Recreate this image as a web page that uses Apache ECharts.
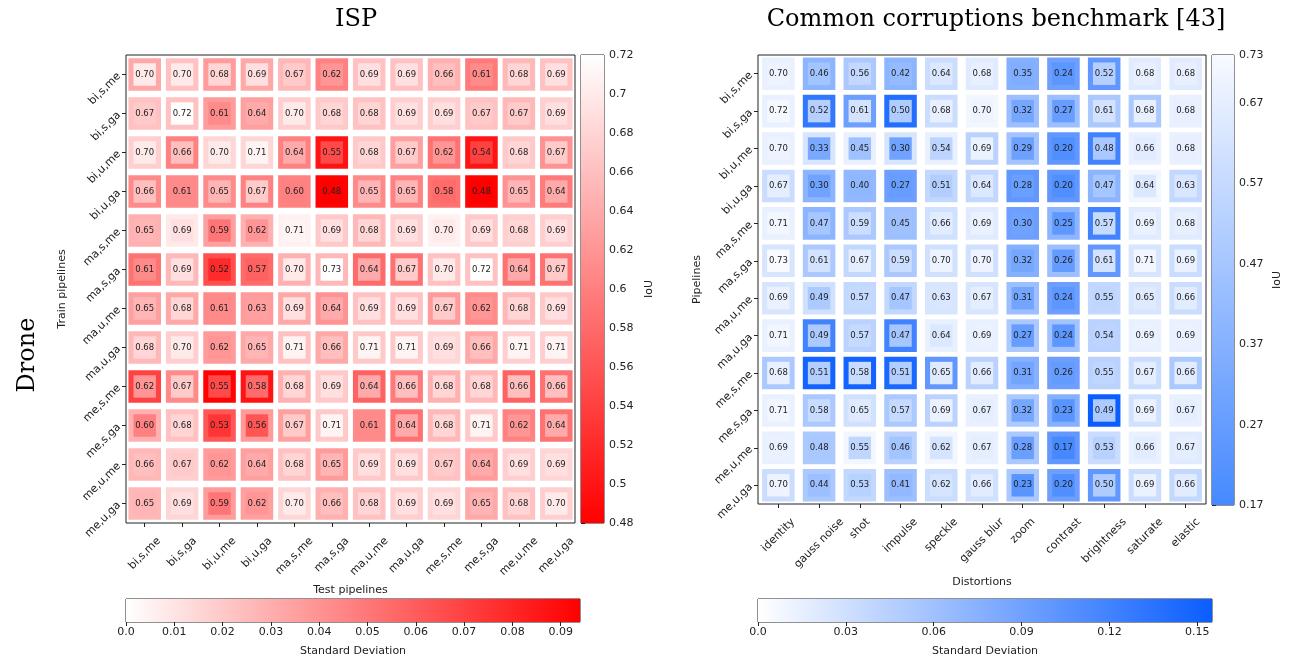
<!DOCTYPE html>
<html>
<head>
<meta charset="utf-8">
<script src="https://cdn.jsdelivr.net/npm/echarts@6/dist/echarts.min.js"></script>
<style>
  html, body { margin: 0; padding: 0; background: #fff; }
  #main { width: 1293px; height: 661px; }
</style>
</head>
<body>
<div id="main"></div>
<script>
// pipelines and distortions
var pipelines = ['bi,s,me', 'bi,s,ga', 'bi,u,me', 'bi,u,ga', 'ma,s,me', 'ma,s,ga',
                 'ma,u,me', 'ma,u,ga', 'me,s,me', 'me,s,ga', 'me,u,me', 'me,u,ga'];
var distortions = ['identity', 'gauss noise', 'shot', 'impulse', 'speckle', 'gauss blur',
                   'zoom', 'contrast', 'brightness', 'saturate', 'elastic'];

// ISP: mean IoU (rows = train pipelines, cols = test pipelines)
var ispIoU = [
  [0.70, 0.70, 0.68, 0.69, 0.67, 0.62, 0.69, 0.69, 0.66, 0.61, 0.68, 0.69],
  [0.67, 0.72, 0.61, 0.64, 0.70, 0.68, 0.68, 0.69, 0.69, 0.67, 0.67, 0.69],
  [0.70, 0.66, 0.70, 0.71, 0.64, 0.55, 0.68, 0.67, 0.62, 0.54, 0.68, 0.67],
  [0.66, 0.61, 0.65, 0.67, 0.60, 0.48, 0.65, 0.65, 0.58, 0.48, 0.65, 0.64],
  [0.65, 0.69, 0.59, 0.62, 0.71, 0.69, 0.68, 0.69, 0.70, 0.69, 0.68, 0.69],
  [0.61, 0.69, 0.52, 0.57, 0.70, 0.73, 0.64, 0.67, 0.70, 0.72, 0.64, 0.67],
  [0.65, 0.68, 0.61, 0.63, 0.69, 0.64, 0.69, 0.69, 0.67, 0.62, 0.68, 0.69],
  [0.68, 0.70, 0.62, 0.65, 0.71, 0.66, 0.71, 0.71, 0.69, 0.66, 0.71, 0.71],
  [0.62, 0.67, 0.55, 0.58, 0.68, 0.69, 0.64, 0.66, 0.68, 0.68, 0.66, 0.66],
  [0.60, 0.68, 0.53, 0.56, 0.67, 0.71, 0.61, 0.64, 0.68, 0.71, 0.62, 0.64],
  [0.66, 0.67, 0.62, 0.64, 0.68, 0.65, 0.69, 0.69, 0.67, 0.64, 0.69, 0.69],
  [0.65, 0.69, 0.59, 0.62, 0.70, 0.66, 0.68, 0.69, 0.69, 0.65, 0.68, 0.70]
];
// ISP: standard deviation
var ispStd = [
  [0.032, 0.023, 0.037, 0.032, 0.026, 0.046, 0.023, 0.023, 0.029, 0.049, 0.026, 0.023],
  [0.023, 0.023, 0.037, 0.035, 0.018, 0.020, 0.023, 0.018, 0.018, 0.023, 0.026, 0.018],
  [0.018, 0.046, 0.015, 0.015, 0.046, 0.087, 0.020, 0.035, 0.052, 0.087, 0.020, 0.040],
  [0.043, 0.043, 0.043, 0.046, 0.046, 0.093, 0.043, 0.046, 0.052, 0.093, 0.040, 0.049],
  [0.029, 0.008, 0.035, 0.029, 0.005, 0.020, 0.026, 0.018, 0.005, 0.020, 0.018, 0.018],
  [0.052, 0.026, 0.065, 0.055, 0.029, 0.026, 0.055, 0.052, 0.023, 0.023, 0.052, 0.052],
  [0.035, 0.032, 0.043, 0.037, 0.032, 0.040, 0.023, 0.023, 0.037, 0.043, 0.026, 0.020],
  [0.026, 0.018, 0.037, 0.032, 0.023, 0.032, 0.020, 0.020, 0.015, 0.032, 0.018, 0.018],
  [0.070, 0.043, 0.093, 0.087, 0.029, 0.020, 0.058, 0.049, 0.029, 0.026, 0.058, 0.052],
  [0.029, 0.023, 0.062, 0.037, 0.035, 0.020, 0.043, 0.052, 0.026, 0.020, 0.046, 0.052],
  [0.026, 0.018, 0.037, 0.035, 0.023, 0.037, 0.020, 0.020, 0.023, 0.037, 0.018, 0.015],
  [0.026, 0.015, 0.037, 0.035, 0.015, 0.029, 0.023, 0.018, 0.015, 0.032, 0.023, 0.018]
];

// Common corruptions: mean IoU (rows = pipelines, cols = distortions)
var ccIoU = [
  [0.70, 0.46, 0.56, 0.42, 0.64, 0.68, 0.35, 0.24, 0.52, 0.68, 0.68],
  [0.72, 0.52, 0.61, 0.50, 0.68, 0.70, 0.32, 0.27, 0.61, 0.68, 0.68],
  [0.70, 0.33, 0.45, 0.30, 0.54, 0.69, 0.29, 0.20, 0.48, 0.66, 0.68],
  [0.67, 0.30, 0.40, 0.27, 0.51, 0.64, 0.28, 0.20, 0.47, 0.64, 0.63],
  [0.71, 0.47, 0.59, 0.45, 0.66, 0.69, 0.30, 0.25, 0.57, 0.69, 0.68],
  [0.73, 0.61, 0.67, 0.59, 0.70, 0.70, 0.32, 0.26, 0.61, 0.71, 0.69],
  [0.69, 0.49, 0.57, 0.47, 0.63, 0.67, 0.31, 0.24, 0.55, 0.65, 0.66],
  [0.71, 0.49, 0.57, 0.47, 0.64, 0.69, 0.27, 0.24, 0.54, 0.69, 0.69],
  [0.68, 0.51, 0.58, 0.51, 0.65, 0.66, 0.31, 0.26, 0.55, 0.67, 0.66],
  [0.71, 0.58, 0.65, 0.57, 0.69, 0.67, 0.32, 0.23, 0.49, 0.69, 0.67],
  [0.69, 0.48, 0.55, 0.46, 0.62, 0.67, 0.28, 0.17, 0.53, 0.66, 0.67],
  [0.70, 0.44, 0.53, 0.41, 0.62, 0.66, 0.23, 0.20, 0.50, 0.69, 0.66]
];
// Common corruptions: standard deviation
var ccStd = [
  [0.014, 0.072, 0.053, 0.072, 0.033, 0.019, 0.077, 0.092, 0.100, 0.019, 0.019],
  [0.014, 0.130, 0.092, 0.140, 0.033, 0.009, 0.062, 0.062, 0.053, 0.053, 0.014],
  [0.014, 0.025, 0.014, 0.025, 0.014, 0.043, 0.058, 0.100, 0.120, 0.014, 0.014],
  [0.033, 0.072, 0.068, 0.092, 0.038, 0.038, 0.100, 0.100, 0.072, 0.009, 0.038],
  [0.014, 0.072, 0.053, 0.062, 0.030, 0.019, 0.092, 0.072, 0.120, 0.019, 0.019],
  [0.025, 0.053, 0.038, 0.053, 0.030, 0.030, 0.077, 0.062, 0.100, 0.025, 0.033],
  [0.025, 0.030, 0.038, 0.038, 0.025, 0.025, 0.062, 0.092, 0.038, 0.025, 0.033],
  [0.014, 0.120, 0.043, 0.120, 0.014, 0.014, 0.053, 0.058, 0.043, 0.014, 0.014],
  [0.053, 0.150, 0.150, 0.145, 0.100, 0.043, 0.077, 0.092, 0.043, 0.033, 0.053],
  [0.014, 0.053, 0.030, 0.053, 0.043, 0.014, 0.053, 0.077, 0.155, 0.030, 0.014],
  [0.014, 0.053, 0.009, 0.043, 0.009, 0.014, 0.053, 0.100, 0.033, 0.014, 0.019],
  [0.033, 0.053, 0.038, 0.062, 0.033, 0.030, 0.053, 0.092, 0.100, 0.033, 0.038]
];

// colour scales
var ispIoURange = [0.48, 0.72];
var ispStdRange = [0, 0.094];
var ccIoURange = [0.17, 0.73];
var ccStdRange = [0, 0.155];

function hex(c) {
  return [parseInt(c.slice(1, 3), 16), parseInt(c.slice(3, 5), 16), parseInt(c.slice(5, 7), 16)];
}
function scale(lo, hi, c0, c1) {
  var a = hex(c0), b = hex(c1);
  return function (v) {
    var t = Math.max(0, Math.min(1, (v - lo) / (hi - lo)));
    return 'rgb(' + [0, 1, 2].map(function (i) { return Math.round(a[i] + (b[i] - a[i]) * t); }).join(',') + ')';
  };
}
var ispIoUColor = scale(ispIoURange[0], ispIoURange[1], '#ff0000', '#ffffff');
var ispStdColor = scale(ispStdRange[0], ispStdRange[1], '#ffffff', '#ff0000');
var ccIoUColor = scale(ccIoURange[0], ccIoURange[1], '#4689ff', '#f8faff');
var ccStdColor = scale(ccStdRange[0], ccStdRange[1], '#ffffff', '#0a5eff');

function cells(iou, std) {
  var out = [];
  iou.forEach(function (row, r) {
    row.forEach(function (v, c) { out.push([c, r, v, std[r][c]]); });
  });
  return out;
}

function cellItem(iouColor, stdColor) {
  return function (params, api) {
    var c = api.coord([api.value(0), api.value(1)]);
    var s = api.size([1, 1]);
    var m = Math.min(s[0], s[1]);
    var o = m * 0.87, i = m * 0.6;
    return {
      type: 'group',
      children: [
        { type: 'rect', shape: { x: c[0] - o / 2, y: c[1] - o / 2, width: o, height: o },
          style: { fill: stdColor(api.value(3)) } },
        { type: 'rect', shape: { x: c[0] - i / 2, y: c[1] - i / 2, width: i, height: i },
          style: { fill: iouColor(api.value(2)) } },
        { type: 'text', x: c[0], y: c[1],
          style: { text: api.value(2).toFixed(2), align: 'center', verticalAlign: 'middle',
                   font: '8.5px "DejaVu Sans"', fill: '#222' } }
      ]
    };
  };
}

function barItem(colors, vertical) {
  return function (params, api) {
    var cs = params.coordSys;
    return {
      type: 'rect',
      shape: { x: cs.x, y: cs.y, width: cs.width, height: cs.height },
      style: {
        fill: new echarts.graphic.LinearGradient(0, vertical ? 1 : 0, vertical ? 0 : 1, 0, [
          { offset: 0, color: colors[0] }, { offset: 1, color: colors[1] }
        ])
      }
    };
  };
}

var font = 'DejaVu Sans';
var lbl = { fontFamily: font, fontSize: 11, color: '#222' };
var tick = { show: true, length: 4, lineStyle: { color: '#222' } };
var nameStyle = { fontFamily: font, fontSize: 11, color: '#222' };
var zeroFmt = function (v) { return v === 0 ? '0.0' : String(+v.toFixed(3)); };

// 45 degree labels centred under their tick (matplotlib ha='center')
var measure = document.createElement('canvas').getContext('2d');
measure.font = '11px "DejaVu Sans"';
function centredLabels(cats) {
  var rich = {};
  cats.forEach(function (c, i) {
    var p = (measure.measureText(c).width + 12) / 2;
    rich['t' + i] = Object.assign({ padding: [p, p, 0, 0] }, lbl);
  });
  return Object.assign({
    rotate: 45, margin: 12, interval: 0, align: 'center', verticalAlign: 'middle', rich: rich,
    formatter: function (v, i) { return '{t' + i + '|' + v + '}'; }
  }, lbl);
}

var option = {
  backgroundColor: '#fff',
  animation: false,
  title: [
    { text: 'ISP', left: 351, top: 3, textAlign: 'center',
      textStyle: { fontFamily: 'DejaVu Serif', fontSize: 24, fontWeight: 'normal', color: '#000' } },
    { text: 'Common corruptions benchmark [43]', left: 991, top: 3, textAlign: 'center',
      textStyle: { fontFamily: 'DejaVu Serif', fontSize: 24, fontWeight: 'normal', color: '#000' } }
  ],
  graphic: [
    { type: 'text', x: 28, y: 355, rotation: Math.PI / 2,
      style: { text: 'Drone', align: 'center', verticalAlign: 'middle',
               font: '24px "DejaVu Serif"', fill: '#000' } }
  ],
  grid: [
    { left: 126, top: 55, width: 449, height: 468, show: true, borderColor: '#222', borderWidth: 1 },
    { left: 581, top: 55, width: 23, height: 468, show: true, borderColor: '#222', borderWidth: 1 },
    { left: 126, top: 599, width: 454, height: 23, show: true, borderColor: '#222', borderWidth: 1 },
    { left: 758, top: 55, width: 448, height: 449, show: true, borderColor: '#222', borderWidth: 1 },
    { left: 1212, top: 55, width: 22, height: 450, show: true, borderColor: '#222', borderWidth: 1 },
    { left: 758, top: 599, width: 454, height: 23, show: true, borderColor: '#222', borderWidth: 1 }
  ],
  xAxis: [
    { gridIndex: 0, type: 'category', data: pipelines, axisLine: { show: false },
      axisTick: { show: true, length: 4, alignWithLabel: true, lineStyle: { color: '#222' } },
      axisLabel: centredLabels(pipelines),
      name: 'Test pipelines', nameLocation: 'middle', nameGap: 57, nameTextStyle: nameStyle },
    { gridIndex: 1, type: 'value', min: 0, max: 1, show: false },
    { gridIndex: 2, type: 'value', min: ispStdRange[0], max: ispStdRange[1], interval: 0.01,
      axisLine: { show: false }, splitLine: { show: false }, axisTick: tick,
      axisLabel: Object.assign({ margin: 5, formatter: zeroFmt, showMaxLabel: false }, lbl),
      name: 'Standard Deviation', nameLocation: 'middle', nameGap: 24, nameTextStyle: nameStyle },
    { gridIndex: 3, type: 'category', data: distortions, axisLine: { show: false },
      axisTick: { show: true, length: 4, alignWithLabel: true, lineStyle: { color: '#222' } },
      axisLabel: centredLabels(distortions),
      name: 'Distortions', nameLocation: 'middle', nameGap: 70, nameTextStyle: nameStyle },
    { gridIndex: 4, type: 'value', min: 0, max: 1, show: false },
    { gridIndex: 5, type: 'value', min: ccStdRange[0], max: ccStdRange[1], interval: 0.03,
      axisLine: { show: false }, splitLine: { show: false }, axisTick: tick,
      axisLabel: Object.assign({ margin: 5, formatter: zeroFmt, showMaxLabel: false }, lbl),
      name: 'Standard Deviation', nameLocation: 'middle', nameGap: 24, nameTextStyle: nameStyle }
  ],
  yAxis: [
    { gridIndex: 0, type: 'category', data: pipelines, inverse: true, axisLine: { show: false },
      axisTick: { show: true, length: 4, alignWithLabel: true, lineStyle: { color: '#222' } },
      axisLabel: Object.assign({ rotate: 45, margin: 7, interval: 0 }, lbl),
      name: 'Train pipelines', nameLocation: 'middle', nameGap: 58, nameTextStyle: nameStyle },
    { gridIndex: 1, type: 'value', position: 'right', min: ispIoURange[0], max: ispIoURange[1], interval: 0.02,
      axisLine: { show: false }, splitLine: { show: false }, axisTick: tick,
      axisLabel: Object.assign({ margin: 5 }, lbl),
      name: 'IoU', nameLocation: 'middle', nameGap: 40, nameRotate: 90, nameTextStyle: nameStyle },
    { gridIndex: 2, type: 'value', min: 0, max: 1, show: false },
    { gridIndex: 3, type: 'category', data: pipelines, inverse: true, axisLine: { show: false },
      axisTick: { show: true, length: 4, alignWithLabel: true, lineStyle: { color: '#222' } },
      axisLabel: Object.assign({ rotate: 45, margin: 7, interval: 0 }, lbl),
      name: 'Pipelines', nameLocation: 'middle', nameGap: 55, nameTextStyle: nameStyle },
    { gridIndex: 4, type: 'value', position: 'right', min: ccIoURange[0], max: ccIoURange[1], interval: 0.1,
      axisLine: { show: false }, splitLine: { show: false }, axisTick: tick,
      axisLabel: Object.assign({ margin: 5, formatter: function (v) { return v.toFixed(2); } }, lbl),
      name: 'IoU', nameLocation: 'middle', nameGap: 38, nameRotate: 90, nameTextStyle: nameStyle },
    { gridIndex: 5, type: 'value', min: 0, max: 1, show: false }
  ],
  series: [
    { type: 'custom', xAxisIndex: 0, yAxisIndex: 0, data: cells(ispIoU, ispStd),
      renderItem: cellItem(ispIoUColor, ispStdColor) },
    { type: 'custom', xAxisIndex: 1, yAxisIndex: 1, data: [[0.5, 0.6]],
      renderItem: barItem([ispIoUColor(ispIoURange[0]), ispIoUColor(ispIoURange[1])], true) },
    { type: 'custom', xAxisIndex: 2, yAxisIndex: 2, data: [[0.05, 0.5]],
      renderItem: barItem([ispStdColor(ispStdRange[0]), ispStdColor(ispStdRange[1])], false) },
    { type: 'custom', xAxisIndex: 3, yAxisIndex: 3, data: cells(ccIoU, ccStd),
      renderItem: cellItem(ccIoUColor, ccStdColor) },
    { type: 'custom', xAxisIndex: 4, yAxisIndex: 4, data: [[0.5, 0.5]],
      renderItem: barItem([ccIoUColor(ccIoURange[0]), ccIoUColor(ccIoURange[1])], true) },
    { type: 'custom', xAxisIndex: 5, yAxisIndex: 5, data: [[0.05, 0.5]],
      renderItem: barItem([ccStdColor(ccStdRange[0]), ccStdColor(ccStdRange[1])], false) }
  ]
};

var chart = echarts.init(document.getElementById('main'));
chart.setOption(option);
</script>
</body>
</html>
